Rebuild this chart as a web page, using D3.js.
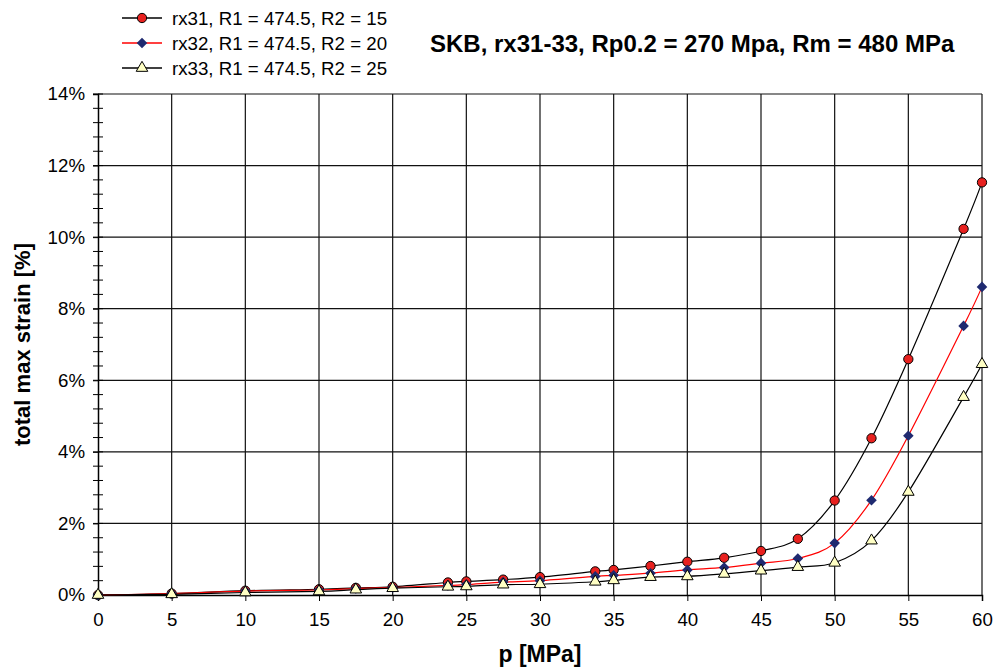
<!DOCTYPE html>
<html>
  <head>
    <meta charset="utf-8">
    <title>SKB rx31-33 strain</title>
    <script src="https://d3js.org/d3.v7.min.js"></script>
    <style>
      body { margin: 0; background: #fff; }
      svg { display: block; font-family: "Liberation Sans", Arial, sans-serif; }
      .tick text { font-size: 18.7px; fill: #000; }
    </style>
  </head>
  <body>
    <div id="chart"></div>
    <script>
      // data (strain in %)
      var pressure = [0, 5, 10, 15, 17.5, 20, 23.75, 25, 27.5, 30, 33.75, 35, 37.5, 40, 42.5, 45, 47.5, 50, 52.5, 55, 58.75, 60];
      var rx31 = [0, 0.04, 0.12, 0.16, 0.2, 0.23, 0.35, 0.38, 0.43, 0.5, 0.66, 0.7, 0.81, 0.93, 1.04, 1.23, 1.57, 2.64, 4.38, 6.59, 10.23, 11.53];
      var rx32 = [0, 0.04, 0.11, 0.14, 0.18, 0.21, 0.27, 0.29, 0.36, 0.4, 0.52, 0.55, 0.61, 0.7, 0.77, 0.89, 1.02, 1.45, 2.65, 4.45, 7.52, 8.61];
      var rx33 = [0, 0.02, 0.07, 0.1, 0.15, 0.19, 0.23, 0.24, 0.29, 0.3, 0.37, 0.41, 0.5, 0.52, 0.59, 0.68, 0.78, 0.9, 1.52, 2.88, 5.53, 6.45];
      var seriesNames = ["rx31, R1 = 474.5, R2 = 15", "rx32, R1 = 474.5, R2 = 20", "rx33, R1 = 474.5, R2 = 25"];
      var xTicks = [0, 5, 10, 15, 20, 25, 30, 35, 40, 45, 50, 55, 60];
      var yTicks = [0, 2, 4, 6, 8, 10, 12, 14];
      var yMinor = d3.range(0, 14.01, 0.4);
      var title = "SKB, rx31-33, Rp0.2 = 270 Mpa, Rm = 480 MPa";

      var width = 994, height = 668;
      var margin = { top: 94, right: 12, bottom: 73, left: 98 };
      var w = width - margin.left - margin.right;
      var h = height - margin.top - margin.bottom;

      var svg = d3.select("#chart").append("svg")
        .attr("width", width)
        .attr("height", height);
      var g = svg.append("g")
        .attr("transform", "translate(" + margin.left + "," + margin.top + ")");

      var x = d3.scaleLinear().domain([0, 60]).range([0, w]);
      var y = d3.scaleLinear().domain([0, 14]).range([h, 0]);

      // grid
      g.append("g").selectAll("line")
        .data(xTicks.slice(1))
        .join("line")
          .attr("x1", d => x(d)).attr("x2", d => x(d))
          .attr("y1", 0).attr("y2", h)
          .attr("stroke", "#111").attr("stroke-width", 1.2);
      g.append("g").selectAll("line")
        .data(yTicks.slice(1))
        .join("line")
          .attr("x1", 0).attr("x2", w)
          .attr("y1", d => y(d)).attr("y2", d => y(d))
          .attr("stroke", "#111").attr("stroke-width", 1.2);

      // minor y ticks crossing the axis
      g.append("g").selectAll("line")
        .data(yMinor)
        .join("line")
          .attr("x1", -5).attr("x2", 5)
          .attr("y1", d => y(d)).attr("y2", d => y(d))
          .attr("stroke", "#000");

      // axes
      g.append("g")
        .attr("transform", "translate(0," + h + ")")
        .call(d3.axisBottom(x).tickValues(xTicks).tickSize(6).tickPadding(12).tickFormat(d3.format("d")));
      g.append("g")
        .call(d3.axisLeft(y).tickValues(yTicks).tickSize(5).tickPadding(8).tickFormat(d => d + "%"));
      g.selectAll(".domain").attr("stroke", "#000").attr("stroke-width", 1.5);
      g.selectAll(".tick line").attr("stroke", "#000");

      // series (diamond = square turned 45 degrees)
      var series = [
        { values: rx31, line: "#000", symbol: d3.symbolCircle, size: 68, rotate: 0, fill: "#e8211f", stroke: "#000" },
        { values: rx32, line: "#ff0000", symbol: d3.symbolSquare, size: 56, rotate: 45, fill: "#1f2a70", stroke: "none" },
        { values: rx33, line: "#000", symbol: d3.symbolTriangle, size: 58, rotate: 0, fill: "#ffffc4", stroke: "#000" }
      ];
      var line = d3.line()
        .x((d, i) => x(pressure[i]))
        .y(d => y(d))
        .curve(d3.curveCatmullRom.alpha(0));

      series.forEach(function(s) {
        g.append("path")
          .attr("d", line(s.values))
          .attr("fill", "none")
          .attr("stroke", s.line)
          .attr("stroke-width", 1.2);
        g.append("g").selectAll("path")
          .data(s.values)
          .join("path")
            .attr("transform", (d, i) => "translate(" + x(pressure[i]) + "," + y(d) + ") rotate(" + s.rotate + ")")
            .attr("d", d3.symbol().type(s.symbol).size(s.size))
            .attr("fill", s.fill)
            .attr("stroke", s.stroke)
            .attr("stroke-width", 1);
      });

      // legend
      var legend = svg.append("g").attr("transform", "translate(122,18)");
      series.forEach(function(s, i) {
        var row = legend.append("g").attr("transform", "translate(0," + (i * 25) + ")");
        row.append("line")
          .attr("x1", 0).attr("x2", 40)
          .attr("stroke", s.line).attr("stroke-width", 1.4);
        row.append("path")
          .attr("transform", "translate(20,0) rotate(" + s.rotate + ")")
          .attr("d", d3.symbol().type(s.symbol).size(s.size))
          .attr("fill", s.fill)
          .attr("stroke", s.stroke);
        row.append("text")
          .attr("x", 50).attr("dy", "0.35em")
          .style("font-size", "18.7px")
          .text(seriesNames[i]);
      });

      // titles
      svg.append("text")
        .attr("x", 430).attr("y", 52)
        .style("font-size", "24px").style("font-weight", "bold")
        .text(title);
      svg.append("text")
        .attr("x", margin.left + w / 2).attr("y", 662)
        .attr("text-anchor", "middle")
        .style("font-size", "23px").style("font-weight", "bold")
        .text("p [MPa]");
      svg.append("text")
        .attr("transform", "translate(30," + (margin.top + h / 2) + ") rotate(-90)")
        .attr("text-anchor", "middle")
        .style("font-size", "22px").style("font-weight", "bold")
        .text("total max strain [%]");
    </script>
  </body>
</html>
